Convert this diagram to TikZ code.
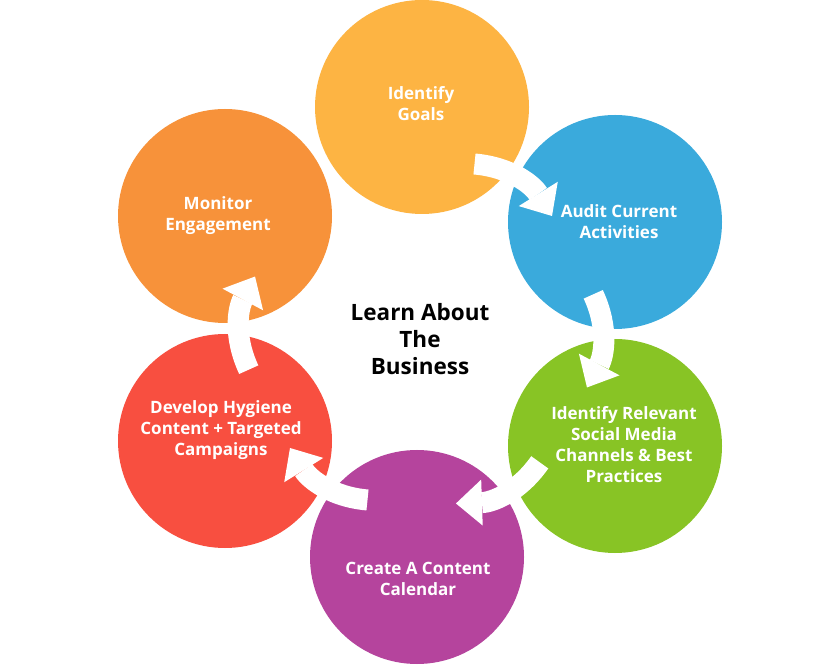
\documentclass[tikz,border=0pt]{standalone}
\usepackage{fontspec}
\setmainfont{Open Sans}
\usetikzlibrary{arrows.meta}
\definecolor{cyellow}{HTML}{FDB443}
\definecolor{cblue}{HTML}{3AAADC}
\definecolor{cgreen}{HTML}{88C425}
\definecolor{cpurple}{HTML}{B5449D}
\definecolor{cred}{HTML}{F84F40}
\definecolor{corange}{HTML}{F7923A}
\begin{document}
\begin{tikzpicture}[x=1pt,y=1pt,
  bubble/.style={circle, minimum size=214pt, inner sep=0pt, draw=none},
  lbl/.style={text=white, font=\fontsize{17}{21}\selectfont\bfseries, align=center, inner sep=0pt},
  hub/.style={text=black, font=\fontsize{22.5}{27}\selectfont\bfseries, align=center, inner sep=0pt},
  flow/.style={draw=white, line width=21pt,
    -{Triangle[length=26pt 0 0, width=46pt 0 0, line width=0pt]}}]
\fill[white] (0,0) rectangle (840,664);
\useasboundingbox (0,0) rectangle (840,664);
% circles
\node[bubble, fill=cyellow] (goals) at (422,557) {};
\node[bubble, fill=cblue]   (audit) at (615,442) {};
\node[bubble, fill=cgreen]  (social) at (615,218) {};
\node[bubble, fill=cpurple] (calendar) at (417,107) {};
\node[bubble, fill=cred]    (hygiene) at (225,223) {};
\node[bubble, fill=corange] (monitor) at (225,448) {};
% labels
\node[lbl] (tgoals) at (421,560) {Identify\\Goals};
\node[lbl] (taudit) at (619,442) {Audit Current\\Activities};
\node[lbl] (tsocial) at (624,219) {Identify Relevant\\Social Media\\Channels \& Best\\Practices};
\node[lbl] (tcalendar) at (418,85) {Create A Content\\Calendar};
\node[lbl] (thygiene) at (221,234) {Develop Hygiene\\Content + Targeted\\Campaigns};
\node[lbl] (tmonitor) at (218,448) {Monitor\\Engagement};
\node[hub] (learn) at (420,325) {Learn About\\The\\Business};
% arrows
\foreach \k in {0,...,4}{
  \begin{scope}[rotate around={-60*\k:(421,332)}]
    \coordinate (s\k) at (474.5,500);
    \coordinate (e\k) at (552,448);
    \draw[flow] (s\k) .. controls (510.9,496.8) and (532.7,479.0) .. (e\k);
  \end{scope}
}
\end{tikzpicture}
\end{document}
